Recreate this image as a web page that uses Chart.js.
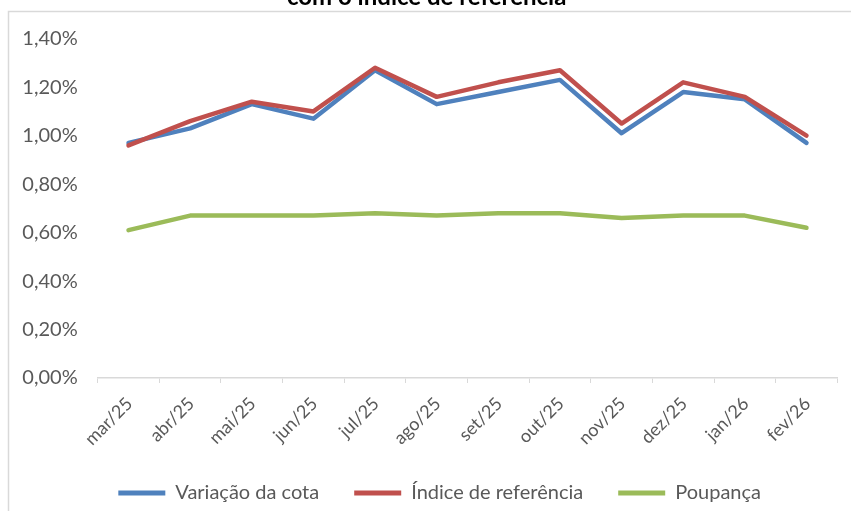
<!DOCTYPE html>
<html>
<head>
<meta charset="utf-8">
<script src="https://cdn.jsdelivr.net/npm/chart.js@4/dist/chart.umd.min.js"></script>
<style>
  html, body { margin: 0; padding: 0; background: #fff; overflow: hidden; width: 851px; height: 519px; }
  #wrap { position: absolute; left: 0; top: -12px; width: 851px; height: 523px; }
</style>
</head>
<body>
<div id="wrap"><canvas id="c"></canvas></div>
<script>
const titleText = 'com o índice de referência';
const categories = ['mar/25','abr/25','mai/25','jun/25','jul/25','ago/25','set/25','out/25','nov/25','dez/25','jan/26','fev/26'];
const seriesNames = ['Variação da cota','Índice de referência','Poupança'];
const variacaoCota = [0.97,1.03,1.13,1.07,1.27,1.13,1.18,1.23,1.01,1.18,1.15,0.97];
const indiceReferencia = [0.96,1.06,1.14,1.10,1.28,1.16,1.22,1.27,1.05,1.22,1.16,1.00];
const poupanca = [0.61,0.67,0.67,0.67,0.68,0.67,0.68,0.68,0.66,0.67,0.67,0.62];
const yTicks = [0,0.2,0.4,0.6,0.8,1.0,1.2,1.4];

const FONT = 'Lato';
const TXT = '#595959';
const AXIS = '#D9D9D9';

const framePlugin = {
  id: 'frame',
  afterLayout(chart) {
    if (chart.legend) {
      chart.legend.left += 21; chart.legend.right += 21;
      chart.legend.top += 2; chart.legend.bottom += 2;
    }
    if (chart.titleBlock) { chart.titleBlock.left += 8; chart.titleBlock.right += 8; }
  },
  beforeDraw(chart) {
    const ctx = chart.ctx;
    ctx.save();
    ctx.strokeStyle = AXIS;
    ctx.lineWidth = 1.5;
    ctx.beginPath();
    ctx.moveTo(8.5, chart.height);
    ctx.lineTo(8.5, 23.5);
    ctx.lineTo(chart.width, 23.5);
    ctx.stroke();
    ctx.restore();
  }
};

function ds(label, data, color, order) {
  return {
    label, data, order,
    borderColor: color, backgroundColor: color,
    borderWidth: 4.5, pointRadius: 0, pointHoverRadius: 0,
    tension: 0, borderCapStyle: 'round', borderJoinStyle: 'round', fill: false
  };
}

new Chart(document.getElementById('c'), {
  type: 'line',
  data: {
    labels: categories,
    datasets: [
      ds(seriesNames[0], variacaoCota, '#4F81BD', 3),
      ds(seriesNames[1], indiceReferencia, '#C0504D', 2),
      ds(seriesNames[2], poupanca, '#9BBB59', 1)
    ]
  },
  options: {
    responsive: true,
    maintainAspectRatio: false,
    animation: false,
    layout: { padding: { left: 0, right: 13.7, top: 0, bottom: 0 } },
    plugins: {
      title: {
        display: true, text: titleText, color: '#000',
        font: { family: FONT, size: 24, weight: 'bold', lineHeight: 0.8 },
        padding: { top: 0, bottom: 31.5 }
      },
      legend: {
        position: 'bottom',
        labels: {
          color: TXT, font: { family: FONT, size: 20 },
          boxWidth: 47, boxHeight: 5, padding: 35,
          sort: (a, b) => a.datasetIndex - b.datasetIndex,
          generateLabels(chart) {
            return chart.data.datasets.map((d, i) => ({
              text: d.label, fillStyle: d.borderColor, strokeStyle: d.borderColor,
              lineWidth: 0, hidden: false, datasetIndex: i, fontColor: TXT
            }));
          }
        }
      },
      tooltip: { enabled: false }
    },
    scales: {
      x: {
        offset: true,
        grid: { display: true, drawOnChartArea: false, drawTicks: true, tickLength: 5, color: AXIS, offset: true },
        border: { display: true, color: AXIS, width: 1.5 },
        ticks: { color: TXT, font: { family: FONT, size: 18 }, minRotation: 45, maxRotation: 45, autoSkip: false, padding: 10, labelOffset: 1 },
        afterFit(s) { s.height = 68; }
      },
      y: {
        min: 0, max: 1.4,
        grid: { display: false, drawTicks: false },
        border: { display: false },
        afterBuildTicks(s) { s.ticks = yTicks.map(v => ({ value: v })); },
        ticks: {
          color: TXT, font: { family: FONT, size: 20 }, padding: 20,
          callback: v => v.toFixed(2).replace('.', ',') + '%'
        },
        afterFit(s) { s.width = 97.7; }
      }
    }
  },
  plugins: [framePlugin]
});
</script>
</body>
</html>
